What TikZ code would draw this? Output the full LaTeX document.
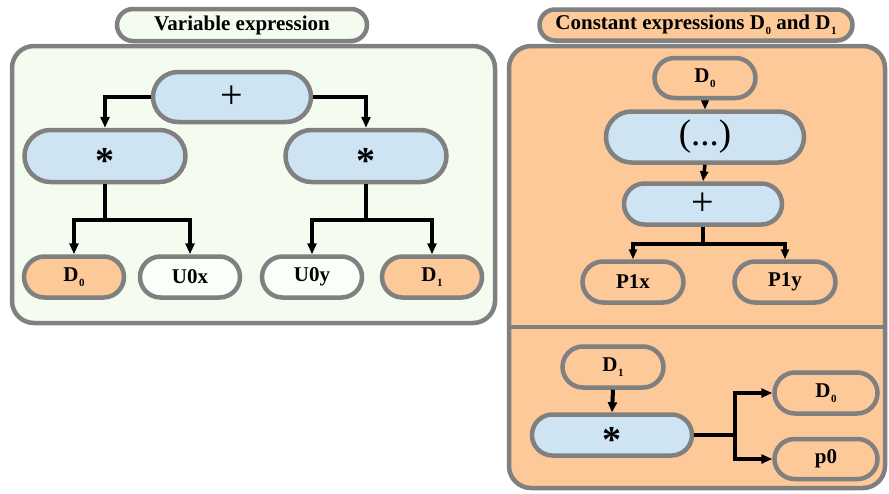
\documentclass[tikz,border=0pt]{standalone}
\usepackage{fontspec}
\setmainfont{Liberation Serif}
\usetikzlibrary{shapes.misc,arrows.meta}
\definecolor{bgray}{HTML}{808080}
\definecolor{lblue}{HTML}{CFE4F3}
\definecolor{peach}{HTML}{FDC998}
\definecolor{lgreen}{HTML}{F3FCEF}
\definecolor{wfill}{HTML}{FBFFF9}
\newcommand{\sbs}[1]{\kern0.5pt\raisebox{-4.5pt}{\fontsize{11}{12}\selectfont #1}}
\newcommand{\mystar}{\raisebox{0pt}[0.9em][0pt]{*}}
\begin{document}
\begin{tikzpicture}[x=1pt,y=-1pt,
  pill/.style={rounded rectangle, draw=bgray, line width=4.5pt, inner sep=0pt,
     font=\fontsize{21}{24}\selectfont\bfseries},
  opnode/.style={pill, fill=lblue},
  cnode/.style={pill, fill=peach},
  wnode/.style={pill, fill=wfill},
  gnode/.style={pill, fill=lgreen},
  panel/.style={draw=bgray, line width=4.5pt, rounded corners=22pt},
  thick arrow/.style={line width=4.5pt, -{Triangle[length=11pt,width=9pt]}},
  thick line/.style={line width=4.5pt},
  titlefont/.style={font=\fontsize{21}{24}\selectfont\bfseries},
  plusfont/.style={font=\fontsize{40}{44}\selectfont},
  starfont/.style={font=\fontsize{38}{42}\selectfont\bfseries}
]
\useasboundingbox (0,0) rectangle (889,493);
% left panel
\draw[panel, fill=lgreen] (12,46) rectangle (495,323);
\node[gnode, minimum width=250pt, minimum height=32pt, titlefont] (t1) at (242,25) {Variable expression};
% right panel
\draw[panel, fill=peach] (509,46) rectangle (885,488);
\draw[bgray, line width=4.5pt] (509,327) -- (885,327);
\node[cnode, minimum width=313pt, minimum height=31pt, titlefont] (t2) at (696,25) {Constant expressions D\sbs{0} and D\sbs{1}};

% left tree
\node[opnode, minimum width=158pt, minimum height=50pt, plusfont] (plus) at (232,97) {+};
\node[opnode, minimum width=161pt, minimum height=52pt, starfont] (m1) at (105,156) {\mystar};
\node[opnode, minimum width=161pt, minimum height=52pt, starfont] (m2) at (366,156) {\mystar};
\node[cnode, minimum width=100pt, minimum height=41pt] (d0) at (74,277) {D\sbs{0}};
\node[wnode, minimum width=100pt, minimum height=41pt] (u0x) at (190,277) {U0x};
\node[wnode, minimum width=100pt, minimum height=41pt] (u0y) at (312,277) {U0y};
\node[cnode, minimum width=100pt, minimum height=41pt] (d1) at (432,277) {D\sbs{1}};

\draw[thick arrow] (plus.west) -| (m1.north);
\draw[thick arrow] (plus.east) -| (m2.north);
\coordinate (j1) at (105,220);
\coordinate (j2) at (366,220);
\draw[thick line] (m1.south) -- (j1);
\draw[thick arrow] (j1) -| (d0.north);
\draw[thick arrow] (j1) -| (u0x.north);
\draw[thick line] (m2.south) -- (j2);
\draw[thick arrow] (j2) -| (u0y.north);
\draw[thick arrow] (j2) -| (d1.north);

% right upper
\node[cnode, minimum width=101pt, minimum height=40pt] (rd0) at (705,78) {D\sbs{0}};
\node[opnode, minimum width=198pt, minimum height=51pt, font=\fontsize{37}{40}\selectfont] (par) at (705,137) {(...)};
\node[opnode, minimum width=158pt, minimum height=41pt, plusfont] (rplus) at (703,204) {+};
\node[cnode, minimum width=101pt, minimum height=41pt] (p1x) at (633,282) {P1x};
\node[cnode, minimum width=101pt, minimum height=41pt] (p1y) at (785,282) {P1y};
\draw[line width=1pt, -{Triangle[length=9pt,width=8pt]}] (rd0.south) -- (par.north);
\draw[line width=3.5pt, -{Triangle[length=10pt,width=8pt]}] (par.south) -- (rplus.north);
\coordinate (j3) at (703,244);
\draw[thick line] (rplus.south) -- (j3);
\draw[line width=4pt, -{Triangle[length=10pt,width=8pt]}] (j3) -| (p1x.north);
\draw[line width=4pt, -{Triangle[length=10pt,width=8pt]}] (j3) -| (p1y.north);

% right lower
\node[cnode, minimum width=101pt, minimum height=41pt] (rd1) at (613,367) {D\sbs{1}};
\node[opnode, minimum width=160pt, minimum height=41pt, starfont] (rm) at (612,435) {\mystar};
\node[cnode, minimum width=103pt, minimum height=41pt] (rd0b) at (826,393) {D\sbs{0}};
\node[cnode, minimum width=103pt, minimum height=40pt] (p0) at (826,459) {p0};
\draw[line width=4pt, -{Triangle[length=10pt,width=9pt]}] (rd1.south) -- (rm.north);
\coordinate (j4) at (735,435);
\draw[thick line] (rm.east) -- (j4);
\draw[thick arrow] (j4) |- (rd0b.west);
\draw[thick arrow] (j4) |- (p0.west);
\end{tikzpicture}
\end{document}
